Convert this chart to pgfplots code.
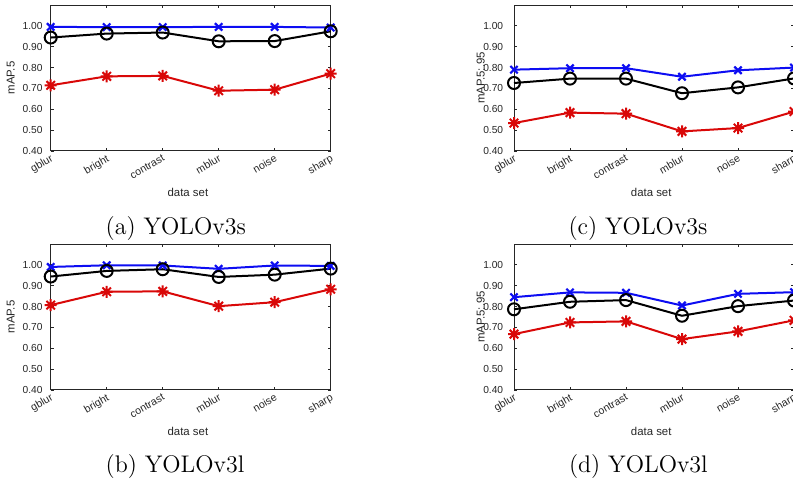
\documentclass[border=0pt]{standalone}
\usepackage{fontspec}
\usepackage{pgfplots}
\pgfplotsset{compat=1.18}
\newfontfamily\arial{Liberation Sans}
\definecolor{mblue}{rgb}{0.05,0.05,0.95}
\definecolor{mred}{rgb}{0.85,0.03,0.03}
\definecolor{axgray}{rgb}{0.15,0.15,0.15}
\pgfdeclareplotmark{mstar}{%
  \pgfpathmoveto{\pgfqpoint{-\pgfplotmarksize}{0pt}}\pgfpathlineto{\pgfqpoint{\pgfplotmarksize}{0pt}}%
  \pgfpathmoveto{\pgfqpoint{0pt}{-\pgfplotmarksize}}\pgfpathlineto{\pgfqpoint{0pt}{\pgfplotmarksize}}%
  \pgfpathmoveto{\pgfqpoint{-0.707\pgfplotmarksize}{-0.707\pgfplotmarksize}}\pgfpathlineto{\pgfqpoint{0.707\pgfplotmarksize}{0.707\pgfplotmarksize}}%
  \pgfpathmoveto{\pgfqpoint{-0.707\pgfplotmarksize}{0.707\pgfplotmarksize}}\pgfpathlineto{\pgfqpoint{0.707\pgfplotmarksize}{-0.707\pgfplotmarksize}}%
  \pgfusepathqstroke}
\pgfplotsset{
 mbase/.style={
  scale only axis, width=140pt, height=73pt, anchor=north west,
  xmin=0,xmax=5,ymin=0.4,ymax=1.1,
  xtick={0,1,2,3,4,5}, xticklabels={gblur,bright,contrast,mblur,noise,sharp},
  ytick={0.4,0.5,0.6,0.7,0.8,0.9,1.0},
  yticklabels={0.40,0.50,0.60,0.70,0.80,0.90,1.00},
  tick align=inside, major tick length=1.5pt,
  axis line style={axgray, line width=0.5pt},
  every tick/.style={axgray, line width=0.4pt},
  tick label style={font=\arial\fontsize{5.1}{5.5}\selectfont, text=axgray},
  y tick label style={xshift=-0.6pt},
  x tick label style={rotate=30, anchor=north east, inner sep=1pt, font=\arial\fontsize{5.3}{5.5}\selectfont},
  xlabel={data set},
  every axis x label/.style={at={(axis description cs:0.49,0)}, anchor=base, yshift=-23pt,
     font=\arial\fontsize{5.7}{6.5}\selectfont, text=axgray},
  clip=false,
 },
 ylab/.style={every axis y label/.style={at={(axis description cs:0,0.5)}, xshift=#1, rotate=90, anchor=center,
     font=\arial\fontsize{5.7}{6.5}\selectfont, text=axgray}},
 sb/.style={mblue, line width=1pt, mark=x, mark size=2.6pt, mark options={solid, line width=1.1pt}},
 sk/.style={black, line width=1pt, mark=o, mark size=3pt, mark options={solid}},
 sr/.style={mred, line width=1pt, mark=mstar, mark size=3pt, mark options={solid}},
}
\begin{document}
\begin{tikzpicture}
\path[use as bounding box] (0,0) rectangle (396.5pt,-241.5pt);
% (a)
\begin{axis}[mbase, at={(25.35pt,-2.5pt)}, ylabel={mAP.5}, ylab=-19.95pt]
\addplot[sb] coordinates {(0,0.995) (1,0.994) (2,0.994) (3,0.995) (4,0.995) (5,0.992)};
\addplot[sk] coordinates {(0,0.944) (1,0.963) (2,0.968) (3,0.926) (4,0.927) (5,0.974)};
\addplot[sr] coordinates {(0,0.715) (1,0.758) (2,0.760) (3,0.689) (4,0.694) (5,0.771)};
\end{axis}
% (c)
\begin{axis}[mbase, at={(257pt,-2.5pt)}, ylabel={mAP.5:.95}, ylab=-16.6pt, y tick label style={xshift=-1.3pt}]
\addplot[sb] coordinates {(0,0.790) (1,0.797) (2,0.797) (3,0.756) (4,0.787) (5,0.800)};
\addplot[sk] coordinates {(0,0.726) (1,0.747) (2,0.747) (3,0.677) (4,0.705) (5,0.748)};
\addplot[sr] coordinates {(0,0.534) (1,0.584) (2,0.579) (3,0.494) (4,0.510) (5,0.589)};
\end{axis}
% (b)
\begin{axis}[mbase, at={(25.35pt,-122pt)}, ylabel={mAP.5}, ylab=-19.95pt]
\addplot[sb] coordinates {(0,0.990) (1,0.998) (2,0.997) (3,0.981) (4,0.997) (5,0.995)};
\addplot[sk] coordinates {(0,0.944) (1,0.971) (2,0.979) (3,0.942) (4,0.953) (5,0.982)};
\addplot[sr] coordinates {(0,0.807) (1,0.871) (2,0.873) (3,0.802) (4,0.821) (5,0.883)};
\end{axis}
% (d)
\begin{axis}[mbase, at={(257pt,-122pt)}, ylabel={mAP.5:.95}, ylab=-16.6pt, y tick label style={xshift=-1.3pt}]
\addplot[sb] coordinates {(0,0.845) (1,0.868) (2,0.866) (3,0.805) (4,0.861) (5,0.869)};
\addplot[sk] coordinates {(0,0.787) (1,0.823) (2,0.831) (3,0.756) (4,0.802) (5,0.829)};
\addplot[sr] coordinates {(0,0.668) (1,0.724) (2,0.729) (3,0.644) (4,0.681) (5,0.734)};
\end{axis}
\node[anchor=base] at (87.9pt,-117pt) {\fontsize{12}{14}\selectfont (a) YOLOv3s};
\node[anchor=base] at (319pt,-117pt) {\fontsize{12}{14}\selectfont (c) YOLOv3s};
\node[anchor=base] at (87.5pt,-236pt) {\fontsize{12}{14}\selectfont (b) YOLOv3l};
\node[anchor=base] at (319.2pt,-236pt) {\fontsize{12}{14}\selectfont (d) YOLOv3l};
\end{tikzpicture}
\end{document}
